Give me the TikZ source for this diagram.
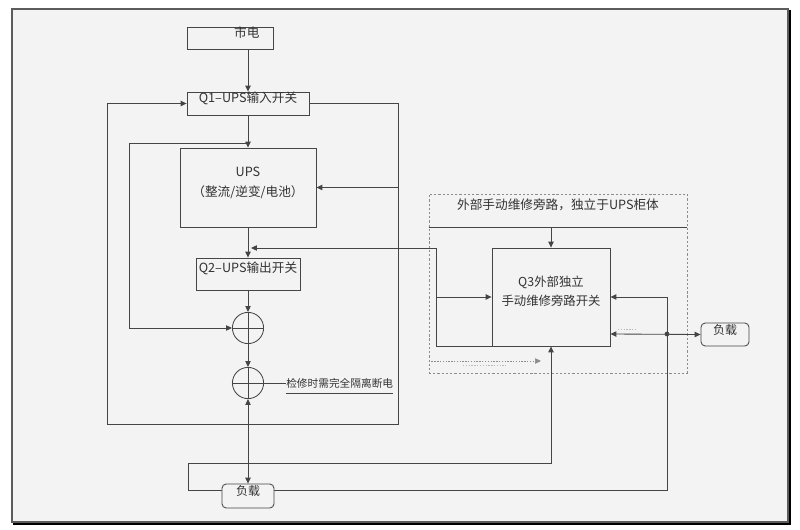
\documentclass[tikz,border=0pt]{standalone}
\usepackage{fontspec}
\setmainfont{Noto Sans CJK SC}
\usepackage{xcolor}
\usepackage{tikz}
\usetikzlibrary{
  arrows.meta,
  positioning,
  calc,
  fit,
}
\definecolor{ink}{HTML}{454545}
\definecolor{textink}{HTML}{333333}
\definecolor{frameink}{HTML}{5C5C5C}
\definecolor{shade}{HTML}{C4C4C4}
\definecolor{dashink}{HTML}{8C8C8C}
\definecolor{pagebg}{HTML}{F3F3F3}
\definecolor{paper}{HTML}{FFFFFF}
\tikzset{
  >={Triangle[length=4.2pt,width=3.8pt]},
  font=\fontsize{9}{11}\selectfont,
  every node/.append style={text=textink},
  wire/.style={draw=ink, line width=0.6pt},
  block/.style={draw=ink, line width=0.6pt, inner sep=0pt, align=center},
  loadbox/.style={block, rounded corners=3pt, font=\fontsize{8.5}{10}\selectfont},
  junction/.style={circle, draw=ink, line width=0.6pt, minimum size=0.78cm, inner sep=0pt},
  note/.style={font=\fontsize{7.6}{9}\selectfont, inner xsep=0pt, inner ysep=3.4pt, anchor=west},
  zone/.style={draw=dashink, dash pattern=on 1.6pt off 1.4pt, line width=0.5pt, inner sep=0pt},
  ghost/.style={draw=dashink, dash pattern=on 1pt off 1pt, line width=0.45pt},
}

\begin{document}
\begin{tikzpicture}[x=0.025cm, y=-0.025cm]
  \useasboundingbox (0,0) rectangle (800,530);
  \fill[paper] (0,0) rectangle (800,530);
  \draw[shade, line width=1pt] (14,11) rectangle (790,524);
  \filldraw[fill=pagebg, draw=frameink, line width=0.8pt] (12,9) rectangle (788,522);

  % UPS cabinet
  \node[block, fit={(187,27) (273,49)}] (mains) {\hspace{24pt}市电};
  \node[block, fit={(187,92) (309,115)}] (q1) {Q1–UPS输入开关};
  \node[block, fit={(180,148) (316,227)}] (ups) {UPS\\[3.5pt]（整流/逆变/电池）};
  \node[block, fit={(196,258) (300,290)}] (q2) {Q2–UPS输出开关};
  \foreach \n/\y in {sum1/328, sum2/383} {
    \node[junction] (\n) at (248,\y) {};
    \draw[wire] (\n.north) -- (\n.south) (\n.west) -- (\n.east);
  }
  \node[note] (isolate) at (286,383) {检修时需完全隔离断电};
  \node[loadbox, fit={(222,484) (274,508)}] (load1) {负载};

  \coordinate (loopR) at (398,424);
  \coordinate (loopL) at (107,424);
  \coordinate (q2in) at (251,248);

  \draw[wire, ->] (q1.north |- mains.south) -- (q1.north);
  \draw[wire, ->] (q1) -- (ups);
  \draw[wire, ->] (ups) -- (q2);
  \draw[wire, ->] (q2) -- (sum1);
  \draw[wire, ->] (sum1) -- (sum2);
  \draw[wire, <->] (sum2.south) -- (load1.north);
  \draw[wire, ->] (ups.north |- 0,143) -- (129,143) -- (129,328) -- (sum1.west);
  \draw[wire, ->] (q1.east) -| (loopR) -- (loopL) |- (q1.west);
  \draw[wire, ->] (ups.east -| loopR) -- (ups.east);
  \draw[wire] (sum2.east) -- (isolate.west);
  \draw[wire] (isolate.south west) -- (isolate.south east);

  % external bypass
  \node[zone, fit={(429,194) (687,373)}] (bypass) {};
  \node[inner sep=0pt, fit={(429,194) (687,227)}] (bypasshead) {外部手动维修旁路，独立于UPS柜体};
  \draw[wire] (bypasshead.south west) -- (bypasshead.south east);
  \node[block, fit={(492,248) (610,346)}, font=\fontsize{8.8}{13.5}\selectfont] (q3) {Q3外部独立\\手动维修旁路开关};
  \node[loadbox, fit={(701,323) (749,346)}] (load2) {负载};

  \coordinate (bypassL) at (436,248);
  \coordinate (tap) at (667,334);
  \coordinate (ghostend) at (541,361);

  \draw[wire, ->] (bypasshead.south -| q3.north) -- (q3.north);
  \draw[wire, ->] (q3.south west) -| (bypassL) -- (q2in);
  \draw[wire, ->] (q3.west -| bypassL) -- (q3.west);
  \draw[wire, ->] (load1.west |- 0,490) -| (188,463) -| (q3.south);
  \draw[wire, ->] (load1.east |- 0,490) -| (tap) |- (q3.east);
  \draw[wire, <->] (q3.east |- tap) -- (load2.west);
  \fill[ink] (tap) circle (1.7pt);

  \draw[ghost, ->] (bypass.west |- ghostend) -- (ghostend);
  \draw[ghost, draw=dashink!60] (463,365) -- (506,365);
  \draw[ghost, draw=dashink!60] (618,329) -- (635,329);
\end{tikzpicture}
\end{document}
